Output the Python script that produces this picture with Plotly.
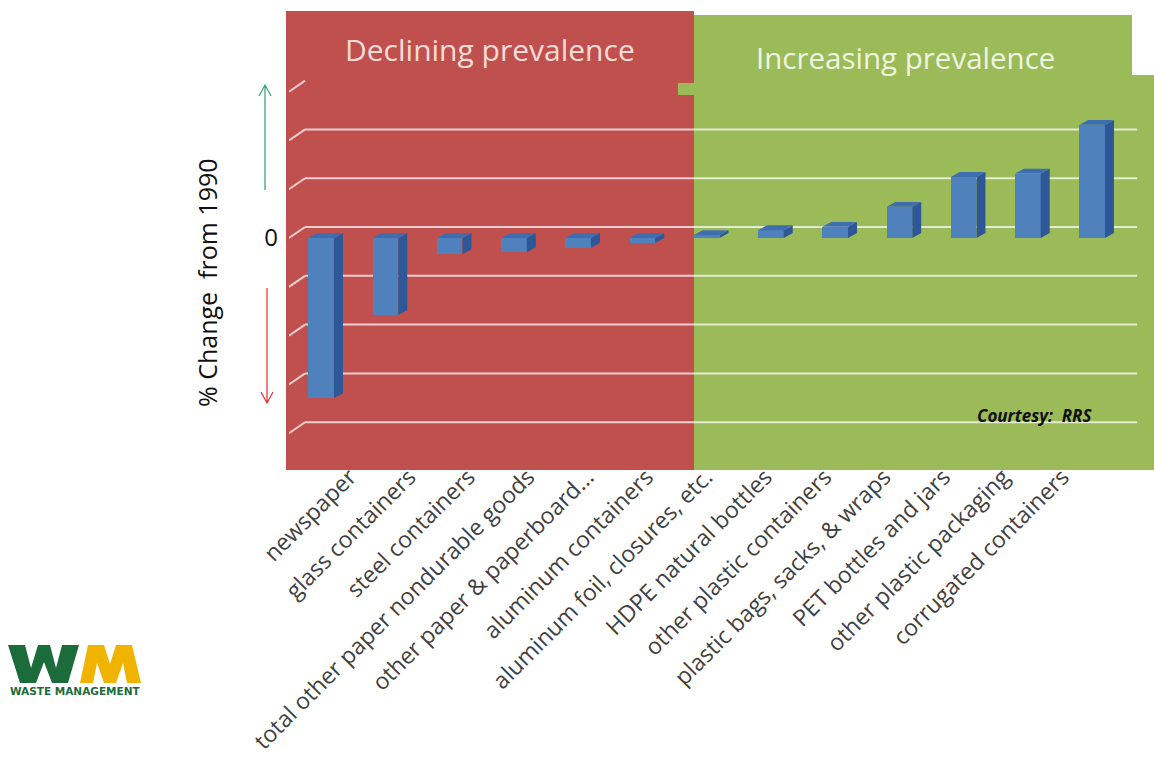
import plotly.graph_objects as go

# ---- data -------------------------------------------------------------
categories = [
    "newspaper",
    "glass containers",
    "steel containers",
    "total other paper nondurable goods",
    "other paper & paperboard...",
    "aluminum containers",
    "aluminum foil, closures, etc.",
    "HDPE natural bottles",
    "other plastic containers",
    "plastic bags, sacks, & wraps",
    "PET bottles and jars",
    "other plastic packaging",
    "corrugated containers",
]
pct_change = [-32.8, -15.8, -3.3, -2.9, -2.0, -1.0, 0.6, 1.6, 2.3, 6.4, 12.5, 13.2, 23.2]
grid_values = [-40, -30, -20, -10, 0, 10, 20]
zero_label = ["0"]

# ---- page geometry ----------------------------------------------------
W, H = 1154, 765
L, R, T, B = 289, 0, 11, 295
PW, PH = W - L - R, H - T - B
CAT_PX = 64.25          # pixels per category
UNIT_PX = 4.88          # pixels per value unit
ZERO_Y = 238            # pixel row of the zero level (front plane)


def px(x):
    return (x - L) / PW


def py(y):
    return (H - B - y) / PH


x_range = [-0.5, -0.5 + PW / CAT_PX]
y_range = [-(H - B - ZERO_Y) / UNIT_PX, (ZERO_Y - T) / UNIT_PX]

# 3-D look: bar half width, depth offsets and back-wall offset
HALF_W = 0.2
DX, DY = 0.14, 1.0
WALL_DX, WALL_DY = 0.25, 2.25

RED = "#c0504d"
GREEN = "#9bbb59"
FRONT = "#4f81bd"
TOP = "#3e6eb0"
SIDE = "#2d5796"

idx = list(range(len(categories)))

fig = go.Figure()
fig.add_trace(go.Bar(
    x=idx, y=pct_change, width=2 * HALF_W,
    marker=dict(color=FRONT, line=dict(width=0)),
    hoverinfo="skip", showlegend=False,
))
# carrier trace for the slanted category labels axis
fig.add_trace(go.Scatter(
    x=idx, y=[0] * len(idx), xaxis="x2", yaxis="y",
    mode="markers", marker=dict(opacity=0), hoverinfo="skip", showlegend=False,
))

shapes = []


def rect_px(x0, y0, x1, y1, color):
    shapes.append(dict(type="rect", xref="paper", yref="paper",
                       x0=px(x0), x1=px(x1), y0=py(y1), y1=py(y0),
                       fillcolor=color, line=dict(width=0), layer="below"))


# background panels
rect_px(286, 11, 694, 470, RED)
rect_px(694, 15, 1132, 80, GREEN)
rect_px(694, 75, 1154, 470, GREEN)
rect_px(678, 83, 694, 95, GREEN)

# back-wall gridlines with their perspective stubs
GRID_COLOR = "rgba(255,255,255,0.72)"
for v in grid_values:
    shapes.append(dict(type="line", xref="x", yref="y",
                       x0=-0.5 + WALL_DX, x1=12.7, y0=v + WALL_DY, y1=v + WALL_DY,
                       line=dict(color=GRID_COLOR, width=2), layer="below"))
for v in grid_values + [30]:
    shapes.append(dict(type="line", xref="x", yref="y",
                       x0=-0.5, x1=-0.5 + WALL_DX, y0=v, y1=v + WALL_DY,
                       line=dict(color=GRID_COLOR, width=2), layer="below"))

# side and top faces of each bar
for i, v in zip(idx, pct_change):
    x0, x1 = i - HALF_W, i + HALF_W
    side = f"M {x1},0 L {x1 + DX},{DY} L {x1 + DX},{v + DY} L {x1},{v} Z"
    shapes.append(dict(type="path", xref="x", yref="y", path=side,
                       fillcolor=SIDE, line=dict(width=0), layer="above"))
    t = max(v, 0)
    top = f"M {x0},{t} L {x1},{t} L {x1 + DX},{t + DY} L {x0 + DX},{t + DY} Z"
    shapes.append(dict(type="path", xref="x", yref="y", path=top,
                       fillcolor=TOP, line=dict(width=0), layer="above"))


def arrow(x, y_tail, y_head, color):
    d = 1 if y_head > y_tail else -1
    wing = y_head - d * 11
    path = (f"M {px(x)},{py(y_tail)} L {px(x)},{py(y_head)} "
            f"M {px(x - 6)},{py(wing)} L {px(x)},{py(y_head)} L {px(x + 6)},{py(wing)}")
    shapes.append(dict(type="path", xref="paper", yref="paper", path=path,
                       line=dict(color=color, width=1.3)))


arrow(265, 190, 85, "#3aa97a")
arrow(267, 288, 403, "#e0393a")

# logo marks
w_pts = [(8, 645), (25, 645), (31, 668), (38, 645), (50, 645), (56, 668), (62, 645),
         (79, 645), (68, 683), (52, 683), (44, 662), (36, 683), (20, 683)]
m_pts = [(80, 683), (88, 645), (104, 645), (110, 664), (116, 645), (132, 645),
         (141, 683), (127, 683), (123, 663), (116, 683), (104, 683), (97, 663), (93, 683)]
for pts, col in ((w_pts, "#1c6b3a"), (m_pts, "#f0b400")):
    path = "M " + " L ".join(f"{px(a)},{py(b)}" for a, b in pts) + " Z"
    shapes.append(dict(type="path", xref="paper", yref="paper", path=path,
                       fillcolor=col, line=dict(width=0)))


def note(text, x, y, size, color, family="Open Sans", angle=0):
    return dict(text=text, x=px(x), y=py(y), xref="paper", yref="paper",
                xanchor="center", yanchor="middle", textangle=angle,
                showarrow=False, font=dict(family=family, size=size, color=color))


annotations = [
    note("Declining prevalence", 490, 49, 30, "#f6dcd8"),
    note("Increasing prevalence", 905, 57, 29.5, "#eef4e0"),
    note("% Change&nbsp; from 1990", 207, 283, 25, "#111111", angle=-90),
    note("<b><i>Courtesy:&nbsp;&nbsp;RRS</i></b>", 1034, 415, 17, "#111111"),
    note("<b>WASTE MANAGEMENT</b>", 75, 691, 10.5, "#1c6b3a", family="DejaVu Sans"),
]

# slanted category labels axis
lab_left, lab_right = 320.0, 1092.0

fig.update_layout(
    width=W, height=H,
    margin=dict(l=L, r=R, t=T, b=B, autoexpand=False),
    paper_bgcolor="white", plot_bgcolor="rgba(0,0,0,0)",
    bargap=0,
    xaxis=dict(range=x_range, showgrid=False, zeroline=False, showline=False,
               showticklabels=False, ticks="", fixedrange=True, automargin=False),
    xaxis2=dict(domain=[px(lab_left), px(lab_right)], anchor="y", range=[-0.5, 12.5],
                tickmode="array", tickvals=idx, ticktext=categories, tickangle=-45,
                showgrid=False, zeroline=False, showline=False, ticks="",
                ticklabelstandoff=-12, automargin=False,
                tickfont=dict(family="Open Sans", size=23, color="#404040")),
    yaxis=dict(range=y_range, showgrid=False, zeroline=False, showline=False,
               tickmode="array", tickvals=[0], ticktext=zero_label, ticks="",
               ticklabelstandoff=10, automargin=False,
               tickfont=dict(family="Open Sans", size=24, color="#111111")),
    shapes=shapes,
    annotations=annotations,
    showlegend=False,
)

fig.write_html("out.html")
